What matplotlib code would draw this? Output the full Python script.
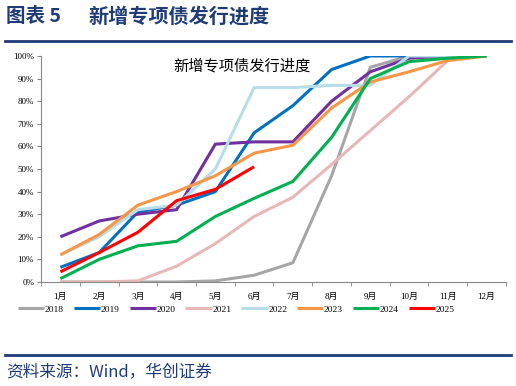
import matplotlib
matplotlib.use("Agg")
import matplotlib.pyplot as plt
from matplotlib.lines import Line2D

plt.rcParams['font.family'] = ['Liberation Serif', 'Noto Sans CJK SC', 'DejaVu Sans']

months = ['1月', '2月', '3月', '4月', '5月', '6月', '7月', '8月', '9月', '10月', '11月', '12月']
years = ['2018', '2019', '2020', '2021', '2022', '2023', '2024', '2025']

# cumulative issuance progress, % of annual quota
p2018 = [0, 0, 0, 0, 0.5, 3, 8.5, 47, 95, 100, 100, 100]
p2019 = [6.5, 13, 31, 34, 40, 66, 78, 94, 100, 100, 100, 100]
p2020 = [20, 27, 30, 32, 61, 62, 62, 80, 93, 99, 100, 100]
p2021 = [0, 0, 0.5, 7, 17, 29, 37.5, 52, 67, 82, 98, 100]
p2022 = [12, 20, 32, 34, 50, 86, 86, 87, 87, 100, 100, 100]
p2023 = [12, 21, 34, 40, 47, 57, 60.5, 77, 88.5, 93, 98, 100]
p2024 = [1.5, 10, 16, 18, 29, 37, 44.5, 64, 90, 97.5, 99, 100]
p2025 = [4.5, 13, 22, 36, 41, 51]

series = [p2018, p2019, p2020, p2021, p2022, p2023, p2024, p2025]
colors = ['#A6A6A6', '#0070C0', '#7030A0', '#E6B9B8', '#B7DEE8', '#F79646', '#00B050', '#FF0000']
navy = '#1F3C78'
cjk = ['Noto Sans CJK SC', 'DejaVu Sans']

fig = plt.figure(figsize=(5.16, 3.86), dpi=100)

# header / footer
fig.text(0.012, 0.958, '图表 5', fontsize=14, fontweight='bold',
         color=navy, family=cjk, va='center')
fig.text(0.172, 0.958, '新增专项债发行进度', fontsize=14.5, fontweight='bold',
         color=navy, family=cjk, va='center')
fig.add_artist(Line2D([0.01, 0.99], [0.894, 0.894], color=navy, lw=2))
fig.add_artist(Line2D([0.01, 0.99], [0.081, 0.081], color=navy, lw=2))
fig.text(0.012, 0.036, '资料来源：Wind，华创证券', fontsize=12, style='italic',
         color=navy, family=cjk, va='center')

ax = fig.add_axes([0.0795, 0.2694, 0.901, 0.5856])
x = list(range(12))
for s, c, lab in zip(series, colors, years):
    ax.plot(x[:len(s)], s, color=c, lw=2.2, label=lab, solid_capstyle='butt')

ax.set_xlim(-0.5, 11.5)
ax.set_ylim(0, 100)
ax.set_yticks(range(0, 101, 10))
ax.set_yticklabels([f'{v}%' for v in range(0, 101, 10)])
ax.set_xticks(x)
ax.set_xticklabels(months)
ax.set_xticks([i - 0.5 for i in range(13)], minor=True)
ax.tick_params(axis='x', which='major', length=0, labelsize=6.5, pad=8)
ax.tick_params(axis='x', which='minor', length=3, color='#888888')
ax.tick_params(axis='y', length=3, color='#888888', labelsize=6.5, pad=2)
for side in ['top', 'right']:
    ax.spines[side].set_visible(False)
for side in ['left', 'bottom']:
    ax.spines[side].set_color('#888888')
    ax.spines[side].set_linewidth(0.8)

ax.text(0.432, 0.955, '新增专项债发行进度', transform=ax.transAxes, ha='center', va='center',
        fontsize=11, family=cjk)

ax.legend(loc='upper center', bbox_to_anchor=(0.42, -0.085), ncol=8, frameon=False,
          fontsize=6.8, handlelength=2.8, handletextpad=0.05, columnspacing=1.05,
          borderaxespad=0)

fig.savefig('out.png', dpi=100)
